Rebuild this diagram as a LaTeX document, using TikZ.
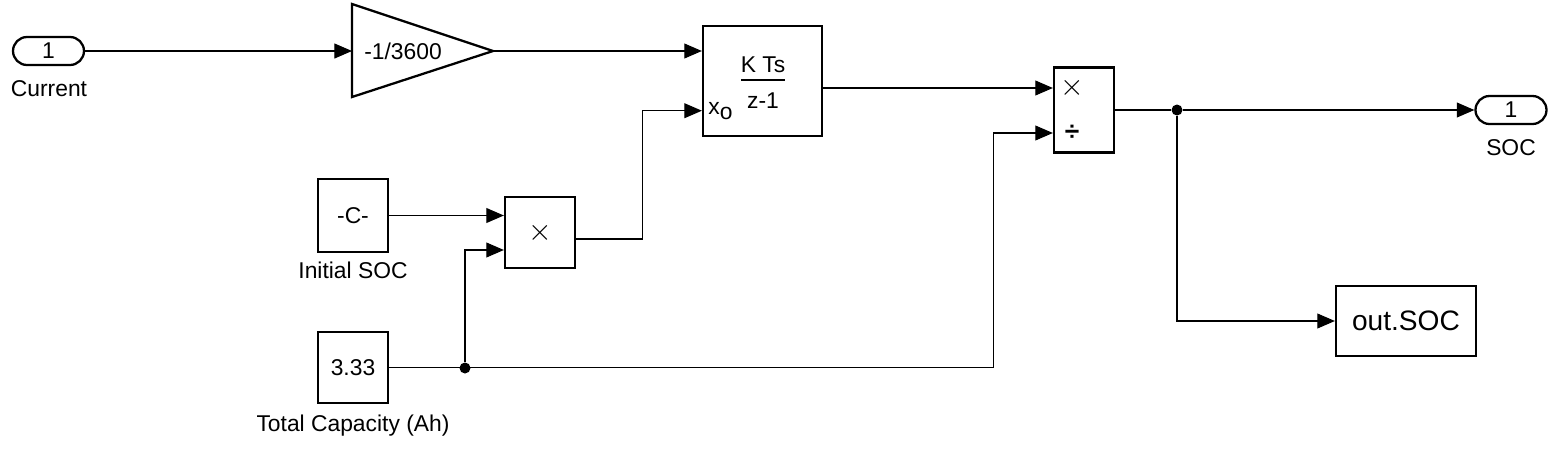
\documentclass[tikz,border=0pt]{standalone}
\usepackage{fontspec}
\setmainfont{Liberation Sans}
\usetikzlibrary{arrows.meta, positioning, calc}

\begin{document}
\begin{tikzpicture}[x=0.02cm, y=-0.02cm, >={Triangle[length=10pt, width=8.5pt]},
    every node/.style={font=\fontsize{13}{15}\selectfont, inner sep=0pt},
    blk/.style={draw, line width=1.3pt},
    port/.style={draw, line width=1.3pt, rounded corners=0.28cm, minimum width=1.42cm, minimum height=0.56cm},
    sig/.style={line width=0.6pt},
    op/.style={font=\fontsize{18}{20}\selectfont},
    dot/.style={circle, fill, minimum size=0.22cm}]
    \useasboundingbox (0,0) rectangle (1553,457);

    % ports
    \node[port] (cur) at (48.5,51) {1};
    \node[anchor=base] (curl) at (49,96) {Current};
    \node[port] (soc) at (1511,110) {1};
    \node[anchor=base] (socl) at (1511,155) {SOC};

    % gain
    \draw[line width=1.3pt] (352,4) -- (493,51) -- (352,97) -- cycle;
    \coordinate (gin) at (352,51);
    \coordinate (gout) at (493,51);
    \node (gain) at (403,51) {-1/3600};

    % integrator
    \node[blk, minimum width=2.38cm, minimum height=2.2cm] (int) at (762.5,81) {};
    \node (kts) at (763,65) {K Ts};
    \draw[line width=0.8pt] (741,80) -- (785,80);
    \node (zm1) at (763,101) {z-1};
    \node[anchor=base west] (x0) at (708,114) {x\raisebox{-3pt}{o}};

    % product / divide
    \node[blk, minimum width=1.2cm, minimum height=1.7cm] (mul) at (1084,110) {};
    \node[op] (mulx) at (1072,88) {$\times$};
    \node[font=\bfseries\fontsize{15}{17}\selectfont] (muld) at (1072,133) {÷};

    % constants
    \node[blk, minimum width=1.4cm, minimum height=1.46cm] (ini) at (353,215.5) {-C-};
    \node[anchor=base] (inil) at (353,278) {Initial SOC};
    \node[blk, minimum width=1.4cm, minimum height=1.42cm] (cap) at (353,367.5) {3.33};
    \node[anchor=base] (capl) at (353,431) {Total Capacity (Ah)};
    \node[blk, op, minimum width=1.4cm, minimum height=1.42cm] (mul2) at (540,232.5) {$\times$};

    % to workspace
    \node[blk, minimum width=2.8cm, minimum height=1.4cm, font=\fontsize{16}{18}\selectfont] (outs) at (1406,321) {out.SOC};

    \node[dot] (j1) at (465,368) {};
    \node[dot] (j2) at (1177,110) {};

    % signals
    \draw[sig, ->] (cur.east) -- (gin);
    \draw[sig, ->] (gout) -- (gout -| int.west);
    \draw[sig, ->] (int.east |- mulx) -- (mul.west |- mulx);
    \draw[sig, ->] (ini.east) -- (mul2.west |- ini.east);
    \draw[sig, ->] ($(mul2.east)+(0,6.5)$) -- ++(66,0) |- (int.west |- x0);
    \draw[sig, ->] (cap.east) -- ++(604,0) |- (mul.west |- muld);
    \draw[sig, ->] (j1) |- ($(mul2.west)+(0,17.5)$);
    \draw[sig] (mul.east) -- (j2);
    \draw[sig, ->] (j2) -- (soc.west);
    \draw[sig, ->] (j2) |- (outs.west);
\end{tikzpicture}
\end{document}
